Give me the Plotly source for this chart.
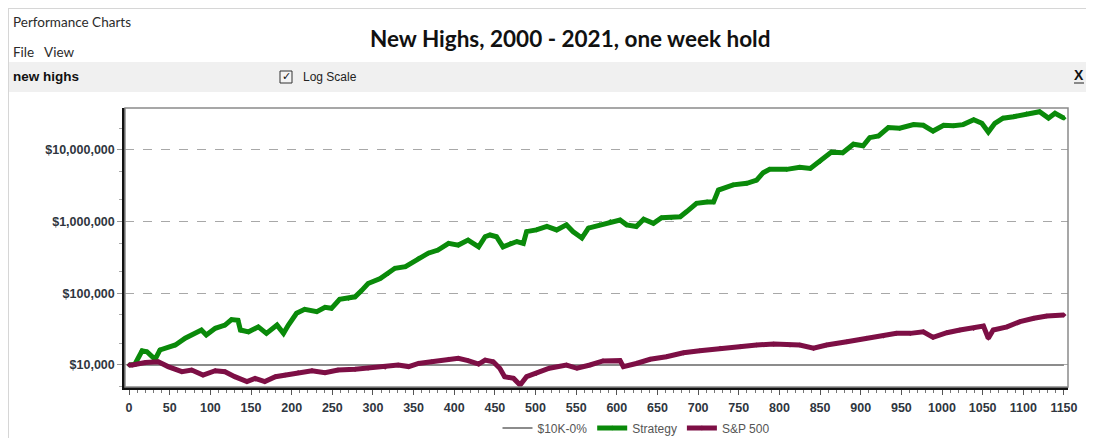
import plotly.graph_objects as go

# ---- data ----
strategy_week = [0, 7, 16, 22, 32, 38, 57, 69, 89, 95, 106, 118, 126, 134, 137, 147, 159, 169, 182, 190,
                 196, 206, 216, 231, 241, 249, 259, 270, 278, 286, 294, 309, 319, 327, 340, 356, 368, 380,
                 393, 405, 417, 430, 438, 444, 452, 460, 469, 477, 485, 489, 501, 514, 526, 538, 546, 557,
                 565, 579, 592, 604, 612, 624, 633, 645, 655, 667, 678, 686, 698, 711, 719, 725, 743, 760,
                 772, 780, 788, 809, 825, 838, 850, 864, 878, 891, 903, 911, 922, 934, 948, 965, 977, 989,
                 1002, 1014, 1026, 1039, 1049, 1057, 1065, 1075, 1088, 1104, 1120, 1131, 1139, 1150]
strategy_value = [10000, 10200, 15800, 15300, 12000, 16200, 19000, 23600, 30700, 26200, 32500, 36000,
                  43000, 42000, 30700, 29000, 34000, 27600, 36000, 27600, 36000, 52600, 59700, 55400,
                  63800, 61700, 82500, 85000, 89300, 109000, 137000, 161000, 190000, 223000, 235000,
                  308000, 362000, 401000, 497000, 470000, 552000, 444000, 615000, 650000, 615000, 444000,
                  497000, 527000, 497000, 725000, 765000, 855000, 765000, 900000, 725000, 590000, 810000,
                  900000, 1000000, 1050000, 900000, 855000, 1080000, 945000, 1130000, 1130000, 1170000,
                  1380000, 1800000, 1880000, 1880000, 2750000, 3250000, 3420000, 3780000, 4800000,
                  5350000, 5350000, 5700000, 5500000, 6900000, 9300000, 9100000, 12000000, 11400000,
                  14800000, 15700000, 20500000, 20000000, 22500000, 22000000, 18300000, 22000000,
                  21700000, 22500000, 26400000, 23500000, 17700000, 23500000, 27700000, 29000000,
                  31800000, 34000000, 27700000, 32400000, 27700000]

sp500_week = [0, 4, 20, 36, 48, 65, 77, 91, 106, 118, 130, 145, 155, 167, 180, 192, 208, 225, 241, 257,
              278, 294, 315, 331, 344, 356, 372, 393, 405, 417, 430, 438, 448, 456, 462, 473, 481, 489,
              501, 517, 538, 551, 567, 583, 604, 608, 624, 641, 661, 682, 702, 727, 752, 772, 793, 813,
              825, 842, 858, 883, 907, 928, 944, 961, 977, 989, 1006, 1022, 1039, 1051, 1057, 1063,
              1080, 1096, 1113, 1129, 1150]
sp500_value = [10000, 10000, 10800, 11100, 9500, 8070, 8500, 7250, 8330, 8070, 6870, 5860, 6500, 5860,
               6870, 7250, 7800, 8330, 7800, 8500, 8700, 9000, 9300, 10000, 9500, 10500, 11100, 12000,
               12400, 11500, 10300, 11700, 11100, 9000, 6870, 6500, 5260, 6870, 7650, 9000, 10000, 9000,
               10000, 11400, 11500, 9500, 10500, 12000, 13060, 14800, 15800, 17100, 18000, 19000, 19600,
               19000, 19000, 17100, 19000, 21100, 23600, 25400, 27600, 27600, 29000, 24300, 28200,
               30700, 32500, 35000, 23600, 30700, 34000, 40300, 44800, 48200, 49800]

flat_week = [0, 1150]
flat_value = [10000, 10000]

y_tick_values = [10000, 100000, 1000000, 10000000]
y_tick_labels = ["$10,000", "$100,000", "$1,000,000", "$10,000,000"]
x_tick_values = [0, 50, 100, 150, 200, 250, 300, 350, 400, 450, 500, 550, 600, 650, 700, 750, 800,
                 850, 900, 950, 1000, 1050, 1100, 1150]

# ---- geometry (window pixels; the page body adds an 8px offset) ----
OFF = 8
WIN_W, WIN_H = 1094, 438
W, H = WIN_W - OFF, WIN_H - OFF
L, R, T, B = 125 - OFF, 1068 - OFF, 108 - OFF, 387 - OFF


def px(x):
    return (x - OFF - L) / (R - L)


def py(y):
    return (B - (y - OFF)) / (B - T)


fig = go.Figure()
fig.add_trace(go.Scatter(x=flat_week, y=flat_value, name="$10K-0%", mode="lines",
                         line=dict(color="#8c8c8c", width=2)))
fig.add_trace(go.Scatter(x=strategy_week, y=strategy_value, name="Strategy", mode="lines+markers",
                         line=dict(color="#0a8a0a", width=5),
                         marker=dict(size=4, symbol="diamond", color="#0a8a0a")))
fig.add_trace(go.Scatter(x=sp500_week, y=sp500_value, name="S&P 500", mode="lines+markers",
                         line=dict(color="#7d0f45", width=5),
                         marker=dict(size=4, symbol="diamond", color="#7d0f45")))

tickfont = dict(family="Liberation Sans, Arial", size=12.5, color="#2f3640", weight="bold")

fig.update_xaxes(range=[-5, 1155], tickvals=x_tick_values, ticks="outside", ticklen=5,
                 tickcolor="#555", tickfont=tickfont, showgrid=False, zeroline=False,
                 showline=True, linecolor="#111", linewidth=2.5, ticklabelstandoff=2,
                 minor=dict(dtick=10, tick0=0, ticks="outside", ticklen=3, tickcolor="#777",
                            showgrid=False))
fig.update_yaxes(type="log", range=[3.693, 7.584], tickvals=y_tick_values, ticktext=y_tick_labels,
                 ticks="outside", ticklen=5, tickcolor="#999", tickfont=tickfont,
                 showgrid=True, gridcolor="#a8a8a8", griddash="dash", gridwidth=1,
                 zeroline=False, showline=True, linecolor="#111", linewidth=2.5,
                 minor=dict(dtick="D2", ticks="outside", ticklen=3, tickcolor="#aaa", showgrid=False))

shapes = [
    # window borders
    dict(type="line", xref="paper", yref="paper", x0=px(8), x1=px(WIN_W), y0=py(8.5), y1=py(8.5),
         line=dict(color="#d6d6d6", width=1), layer="below"),
    dict(type="line", xref="paper", yref="paper", x0=px(8.5), x1=px(8.5), y0=py(8), y1=py(WIN_H),
         line=dict(color="#d6d6d6", width=1), layer="below"),
    # toolbar band
    dict(type="rect", xref="paper", yref="paper", x0=px(9), x1=px(WIN_W), y0=py(92), y1=py(62),
         fillcolor="#f0f0f0", line=dict(width=0), layer="below"),
    # plot frame (top/right)
    dict(type="rect", xref="paper", yref="paper", x0=0, x1=1, y0=0, y1=1,
         line=dict(color="#8a8a8a", width=1.5), layer="above"),
    # checkbox
    dict(type="rect", xref="paper", yref="paper", x0=px(280), x1=px(292), y0=py(83), y1=py(71),
         fillcolor="#f4f4f4", line=dict(color="#333", width=1)),
    # underline under X
    dict(type="line", xref="paper", yref="paper", x0=px(1074), x1=px(1084), y0=py(83), y1=py(83),
         line=dict(color="#222", width=1)),
]

ann_font = dict(family="Lato, Open Sans", size=13.5, color="#2b2b2b")
annotations = [
    dict(text="New Highs, 2000 - 2021, one week hold", x=px(570), y=py(38), xref="paper", yref="paper",
         showarrow=False, xanchor="center", yanchor="middle",
         font=dict(family="Lato, Open Sans", size=22.5, color="#111", weight="bold")),
    dict(text="Performance Charts", x=px(11), y=py(22), xref="paper", yref="paper", showarrow=False,
         xanchor="left", yanchor="middle", font=ann_font),
    dict(text="File&nbsp;&nbsp;&nbsp;View", x=px(11), y=py(52), xref="paper", yref="paper",
         showarrow=False, xanchor="left", yanchor="middle", font=ann_font),
    dict(text="new highs", x=px(11), y=py(77), xref="paper", yref="paper", showarrow=False,
         xanchor="left", yanchor="middle",
         font=dict(family="Liberation Sans, Arial", size=13.5, color="#111", weight="bold")),
    dict(text="✓", x=px(286), y=py(77), xref="paper", yref="paper", showarrow=False,
         xanchor="center", yanchor="middle",
         font=dict(family="DejaVu Sans", size=11, color="#111", weight="bold")),
    dict(text="Log Scale", x=px(301), y=py(77), xref="paper", yref="paper", showarrow=False,
         xanchor="left", yanchor="middle",
         font=dict(family="Liberation Sans, Arial", size=12, color="#222")),
    dict(text="X", x=px(1079), y=py(75), xref="paper", yref="paper", showarrow=False,
         xanchor="center", yanchor="middle",
         font=dict(family="Liberation Sans, Arial", size=14, color="#111", weight="bold")),
]

fig.update_layout(
    width=W, height=H,
    margin=dict(l=L, r=W - R, t=T, b=H - B, autoexpand=False),
    paper_bgcolor="white", plot_bgcolor="white",
    shapes=shapes, annotations=annotations,
    showlegend=True,
    legend=dict(orientation="h", x=px(636), y=py(428), xanchor="center", yanchor="middle",
                font=dict(family="Liberation Sans, Arial", size=12, color="#555"),
                itemwidth=30, bgcolor="rgba(0,0,0,0)", tracegroupgap=0),
)

fig.write_html("out.html")
